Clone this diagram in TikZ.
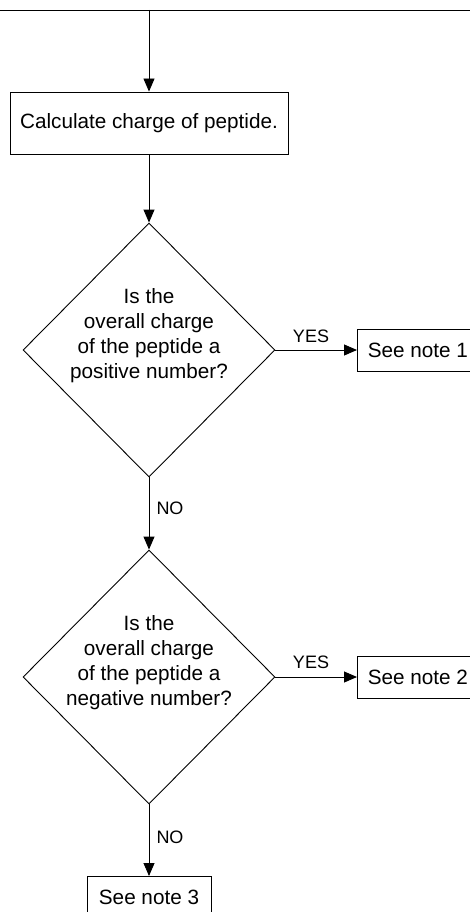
\documentclass[tikz,border=0pt]{standalone}
\usepackage{fontspec}
\setmainfont{Liberation Sans}
\usetikzlibrary{shapes.geometric,arrows.meta}
\begin{document}
\begin{tikzpicture}[x=1pt,y=-1pt,
  every node/.style={font=\fontsize{20.7}{25}\selectfont},
  flow/.style={line width=0.9pt,-{Triangle[length=13pt,width=11pt]}},
  plain/.style={line width=0.9pt},
  boxnode/.style={draw,line width=0.9pt,inner sep=0pt},
  dia/.style={draw,diamond,line width=0.9pt,inner sep=0pt,minimum width=252pt,minimum height=254pt},
  qtext/.style={align=center,anchor=north,inner sep=0pt},
  lbl/.style={font=\fontsize{18}{20}\selectfont,anchor=base,inner sep=0pt}]
\useasboundingbox (0,0) rectangle (470,912);
\clip (0,0) rectangle (470,912);
\coordinate (tl) at (0,10);
\coordinate (tr) at (470,10);
\coordinate (top) at (149,10);
\draw[plain] (tl) -- (tr);
\node[boxnode,minimum width=278pt,minimum height=62pt] (calc) at (149,123) {Calculate charge of peptide.};
\node[dia] (d1) at (149,350) {};
\node[qtext] (q1) at (149,288) {Is the\\overall charge\\of the peptide a\\positive number?};
\node[boxnode,minimum width=121pt,minimum height=42pt,anchor=west] (n1) at (357,350) {See note 1};
\node[dia] (d2) at (149,677) {};
\node[qtext] (q2) at (149,615) {Is the\\overall charge\\of the peptide a\\negative number?};
\node[boxnode,minimum width=121pt,minimum height=42pt,anchor=west] (n2) at (357,677) {See note 2};
\node[boxnode,minimum width=124pt,minimum height=42pt,anchor=north] (n3) at (149,876) {See note 3};
\draw[flow] (top) -- (calc.north);
\draw[flow] (calc.south) -- (d1.north);
\draw[flow] (d1.east) -- (n1.west);
\draw[flow] (d1.south) -- (d2.north);
\draw[flow] (d2.east) -- (n2.west);
\draw[flow] (d2.south) -- (n3.north);
\node[lbl] (y1) at (311,342) {YES};
\node[lbl] (no1) at (170,514) {NO};
\node[lbl] (y2) at (311,668) {YES};
\node[lbl] (no2) at (170,843) {NO};
\end{tikzpicture}
\end{document}
